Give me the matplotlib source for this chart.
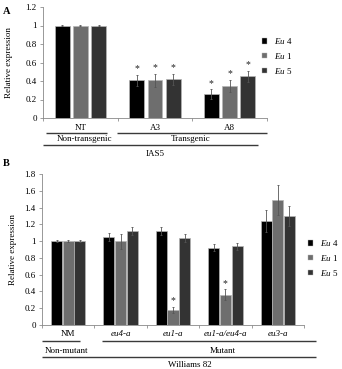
import matplotlib
matplotlib.use("Agg")
import matplotlib.pyplot as plt
import matplotlib.transforms as mtransforms
from matplotlib.patches import Patch
from matplotlib.ticker import FuncFormatter, FixedLocator
import numpy as np

plt.rcParams["font.family"] = ["Liberation Serif", "DejaVu Serif"]
plt.rcParams["mathtext.fontset"] = "custom"
plt.rcParams["mathtext.it"] = "Liberation Serif:italic"
plt.rcParams["mathtext.rm"] = "Liberation Serif"

# ---- data ----
series = ["Eu 4", "Eu 1", "Eu 5"]
colors = ["#000000", "#6e6e6e", "#333333"]

cats_a = ["NT", "A3", "A8"]
vals_a = [[1.0, 0.41, 0.26],
          [1.0, 0.41, 0.35],
          [1.0, 0.42, 0.45]]
errs_a = [[0.01, 0.06, 0.05],
          [0.01, 0.07, 0.065],
          [0.01, 0.06, 0.06]]
stars_a = [[False, True, True],
           [False, True, True],
           [False, True, True]]

cats_b = ["NM", "eu4-a", "eu1-a", "eu1-a/eu4-a", "eu3-a"]
vals_b = [[1.0, 1.05, 1.12, 0.92, 1.24],
          [1.0, 1.0, 0.18, 0.36, 1.49],
          [1.0, 1.12, 1.04, 0.94, 1.30]]
errs_b = [[0.01, 0.05, 0.05, 0.04, 0.13],
          [0.01, 0.09, 0.04, 0.065, 0.18],
          [0.01, 0.05, 0.05, 0.04, 0.12]]
stars_b = [[False, False, False, False, False],
           [False, False, True, True, False],
           [False, False, False, False, False]]

W, H = 342, 369
fig = plt.figure(figsize=(W / 100, H / 100), dpi=100)

FS = 6.5
LINE_C = "#3a3a3a"


def px_axes(left, right, top, bottom):
    return fig.add_axes([left / W, 1 - bottom / H, (right - left) / W, (bottom - top) / H])


def draw_bars(ax, cats, vals, errs, stars, width, step, ymax, yticks):
    n = len(cats)
    x = np.arange(n)
    for i in range(3):
        xs = x + (i - 1) * step
        ax.bar(xs, vals[i], width=width, color=colors[i], edgecolor="#b5b5b5",
               linewidth=0.5, zorder=2)
        ax.errorbar(xs, vals[i], yerr=errs[i], fmt="none", ecolor="#555555",
                    elinewidth=0.6, capsize=1.0, capthick=0.6, zorder=3)
        for j in range(n):
            if stars[i][j]:
                ax.text(xs[j], vals[i][j] + errs[i][j] + 0.015, "*", ha="center",
                        va="bottom", fontsize=7, color="#222222")
    ax.set_xlim(-0.5, n - 0.5)
    ax.set_ylim(0, ymax)
    ax.set_yticks(yticks)
    ax.yaxis.set_major_formatter(FuncFormatter(lambda v, p: f"{v:g}"))
    ax.set_xticks([])
    ax.xaxis.set_minor_locator(FixedLocator(np.arange(-0.5, n, 1.0)))
    ax.tick_params(axis="x", which="minor", length=2.5, width=0.5, color="#777777")
    ax.tick_params(axis="y", length=2.5, width=0.5, color="#777777", labelsize=FS, pad=2)
    for s in ["top", "right"]:
        ax.spines[s].set_visible(False)
    for s in ["left", "bottom"]:
        ax.spines[s].set_linewidth(0.6)
        ax.spines[s].set_color("#888888")
    ax.set_ylabel("Relative expression", fontsize=FS)


def row_text(ax, x, py, txt, italic=False):
    tr = mtransforms.blended_transform_factory(ax.transData, fig.transFigure)
    ax.text(x, 1 - py / H, txt, transform=tr, ha="center", va="center",
            fontsize=FS, style="italic" if italic else "normal", clip_on=False)


def row_line(ax, x0, x1, py):
    tr = mtransforms.blended_transform_factory(ax.transData, fig.transFigure)
    ax.plot([x0, x1], [1 - py / H, 1 - py / H], transform=tr, color=LINE_C,
            linewidth=1.0, clip_on=False, solid_capstyle="butt")


# ---- panel A ----
ax_a = px_axes(43, 267, 7, 118)
draw_bars(ax_a, cats_a, vals_a, errs_a, stars_a, 0.2, 0.245, 1.2,
          [0, 0.2, 0.4, 0.6, 0.8, 1.0, 1.2])
ax_a.yaxis.set_label_coords(-0.135, 0.5)
for j, c in enumerate(cats_a):
    row_text(ax_a, j, 128, c)
row_line(ax_a, -0.46, 0.36, 133)
row_line(ax_a, 0.49, 2.5, 133)
row_text(ax_a, 0.06, 139, "Non-transgenic")
row_text(ax_a, 1.48, 139, "Transgenic")
row_line(ax_a, -0.5, 2.38, 145)
row_text(ax_a, 1.0, 154, "IAS5")

# ---- panel B ----
ax_b = px_axes(42, 304, 174, 325)
draw_bars(ax_b, cats_b, vals_b, errs_b, stars_b, 0.21, 0.222, 1.8,
          [0, 0.2, 0.4, 0.6, 0.8, 1.0, 1.2, 1.4, 1.6, 1.8])
ax_b.yaxis.set_label_coords(-0.095, 0.5)
for j, c in enumerate(cats_b):
    row_text(ax_b, j, 334, c, italic=(j > 0))
row_line(ax_b, -0.5, 0.22, 341)
row_line(ax_b, 0.64, 4.73, 341)
row_text(ax_b, -0.04, 351, "Non-mutant")
row_text(ax_b, 2.95, 351, "Mutant")
row_line(ax_b, -0.5, 4.73, 357)
row_text(ax_b, 2.32, 365, "Williams 82")

# ---- legends ----
handles = [Patch(facecolor=c, edgecolor="#b5b5b5", linewidth=0.3) for c in colors]
labels = ["$\\it{Eu}$ " + s.split()[1] for s in series]
for (lx, ly) in [(262, 36), (308, 238)]:
    fig.legend(handles, labels, loc="upper left",
               bbox_to_anchor=(lx / W, 1 - ly / H), frameon=False, fontsize=FS,
               handlelength=0.55, handleheight=0.55, handletextpad=0.8,
               labelspacing=0.55, borderaxespad=0, borderpad=0)

# panel letters
fig.text(3 / W, 1 - 11 / H, "A", fontsize=7.5, fontweight="bold", va="center")
fig.text(3 / W, 1 - 163 / H, "B", fontsize=7.5, fontweight="bold", va="center")

fig.savefig("out.png", dpi=100)
